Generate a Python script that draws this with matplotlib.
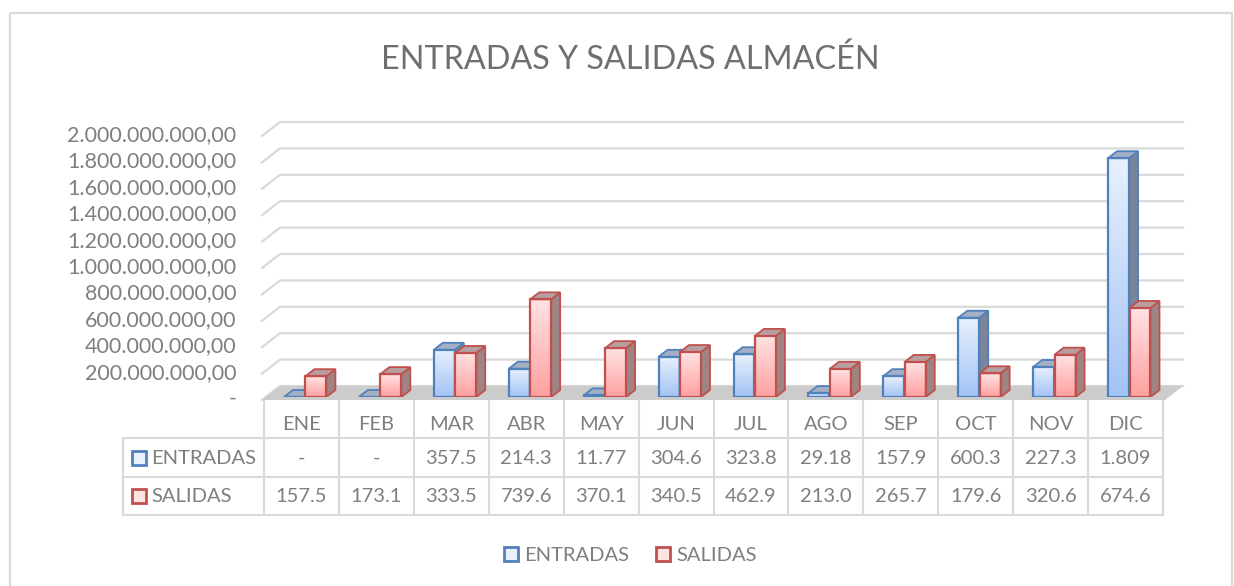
import numpy as np
import matplotlib
matplotlib.use('Agg')
import matplotlib.pyplot as plt
from matplotlib.patches import Polygon, Rectangle
from matplotlib.lines import Line2D
from matplotlib.colors import LinearSegmentedColormap
from matplotlib.transforms import blended_transform_factory

# datos (valores en pesos)
meses = ['ENE', 'FEB', 'MAR', 'ABR', 'MAY', 'JUN', 'JUL', 'AGO', 'SEP', 'OCT', 'NOV', 'DIC']
entradas = [0, 0, 357_500_000, 214_300_000, 11_770_000, 304_600_000, 323_800_000,
            29_180_000, 157_900_000, 600_300_000, 227_300_000, 1_809_000_000]
salidas = [157_500_000, 173_100_000, 333_500_000, 739_600_000, 370_100_000, 340_500_000,
           462_900_000, 213_000_000, 265_700_000, 179_600_000, 320_600_000, 674_600_000]
series = ['ENTRADAS', 'SALIDAS']
yticks = np.arange(0, 2_000_000_001, 200_000_000)

plt.rcParams['font.family'] = ['Lato', 'DejaVu Sans']
GRIS = '#7f7f7f'
LINEA = '#d9d9d9'


def fmt(v):
    # formato excel es-CO: 1.234.567,00 y cero como "-"
    if v == 0:
        return '-'
    s = f'{v:,.2f}'
    return s.replace(',', 'X').replace('.', ',').replace('X', '.')


W, H = 1234, 586
fig = plt.figure(figsize=(W / 100, H / 100), dpi=100)

# capa en pixeles (origen arriba a la izquierda) para marco, titulo y tabla
lay = fig.add_axes([0, 0, 1, 1])
lay.set_xlim(0, W)
lay.set_ylim(H, 0)
lay.axis('off')

x_left, x_right, y_base, y_top = 264, 1163, 397, 133
ax = fig.add_axes([x_left / W, 1 - y_base / H, (x_right - x_left) / W, (y_base - y_top) / H])

ux = (x_right - x_left) / 12.0
uy = (y_base - y_top) / 2e9
dxp = lambda p: p / ux
dyp = lambda p: p / uy

# pared de fondo y piso (efecto 3D)
for t in yticks:
    ax.plot([-0.5 - dxp(2), -0.5 + dxp(16), 11.5 + dxp(20)],
            [t - dyp(3), t + dyp(11), t + dyp(11)],
            color=LINEA, lw=1.6, clip_on=False, zorder=0)
piso = Polygon([(-0.5 - dxp(2), -dyp(3)), (11.5 + dxp(2), -dyp(3)),
                (11.5 + dxp(20), dyp(11)), (-0.5 + dxp(16), dyp(11))],
               closed=True, facecolor='#cccccc', edgecolor='none', clip_on=False, zorder=1)
ax.add_patch(piso)

x = np.arange(len(meses))
width = 0.28
offsets = [-0.093, 0.193]
edges = ['#4f81bd', '#c0504d']
grads = [['#a3c3f5', '#e8f1fd'], ['#ffa0a0', '#ffe3e3']]
sides = ['#7a859a', '#9f8484']
tops = ['#a4afc4', '#b89f9f']
ddx, ddy = dxp(9), dyp(7)
grad = np.linspace(0, 1, 128).reshape(-1, 1)

for k, vals in enumerate([entradas, salidas]):
    z = 3 + k
    cmap = LinearSegmentedColormap.from_list('g%d' % k, grads[k])
    ax.bar(x + offsets[k], vals, width, facecolor='none', edgecolor=edges[k], lw=1.6, zorder=z + 0.3)
    for xi, v in zip(x + offsets[k], vals):
        x0, x1 = xi - width / 2, xi + width / 2
        if v > 0:
            ax.imshow(grad, extent=(x0, x1, 0, v), origin='lower', aspect='auto',
                      cmap=cmap, interpolation='bilinear', zorder=z)
            ax.add_patch(Polygon([(x1, 0), (x1 + ddx, ddy), (x1 + ddx, v + ddy), (x1, v)],
                                 facecolor=sides[k], edgecolor=edges[k], lw=1.3, zorder=z + 0.2))
        ax.add_patch(Polygon([(x0, v), (x1, v), (x1 + ddx, v + ddy), (x0 + ddx, v + ddy)],
                             facecolor=tops[k], edgecolor=edges[k], lw=1.3, zorder=z + 0.2))

ax.set_xlim(-0.5, 11.5)
ax.set_ylim(0, 2e9)
ax.patch.set_visible(False)
for s in ax.spines.values():
    s.set_visible(False)
ax.set_xticks([])
ax.set_yticks(yticks)
ax.set_yticklabels([fmt(t) for t in yticks])
ax.tick_params(axis='y', length=0, pad=20, labelsize=15.5, labelcolor=GRIS)

# marco y titulo
lay.add_patch(Rectangle((10, 13), 1222, 600, fill=False, edgecolor=LINEA, lw=1.6, clip_on=False))
lay.text(630, 60, 'ENTRADAS Y SALIDAS ALMACÉN', fontsize=23.3, color='#6f6f6f', ha='center', va='center')

# tabla de datos
bt = blended_transform_factory(ax.transData, lay.transData)
for i in range(len(meses) + 1):
    lay.plot([i - 0.5, i - 0.5], [401, 515], color=LINEA, lw=1.5, transform=bt)
for yy in [438, 477, 515]:
    lay.plot([123, x_right], [yy, yy], color=LINEA, lw=1.5)
lay.plot([123, 123], [438, 515], color=LINEA, lw=1.5)

for i, m in enumerate(meses):
    lay.text(i, 425, m, transform=bt, ha='center', va='center', fontsize=14.5, color=GRIS)
    lay.text(i, 458, fmt(entradas[i])[:5], transform=bt, ha='center', va='center', fontsize=14.5, color=GRIS)
    lay.text(i, 496, fmt(salidas[i])[:5], transform=bt, ha='center', va='center', fontsize=14.5, color=GRIS)

for yy, name, k in [(458, series[0], 0), (496, series[1], 1)]:
    lay.plot([139], [yy], marker='s', ms=9.5, mfc=grads[k][1], mec=edges[k], mew=2)
    lay.text(151, yy, name, ha='left', va='center', fontsize=14.5, color=GRIS)

# leyenda
handles = [Line2D([], [], ls='', marker='s', ms=9.5, mfc=grads[k][1], mec=edges[k], mew=2)
           for k in range(2)]
fig.legend(handles, series, loc='center', bbox_to_anchor=(630 / W, 1 - 555 / H), ncol=2,
           frameon=False, fontsize=14.5, handlelength=0.8, handletextpad=0.25,
           columnspacing=1.3, labelcolor=GRIS)

fig.savefig('out.png', dpi=100)
